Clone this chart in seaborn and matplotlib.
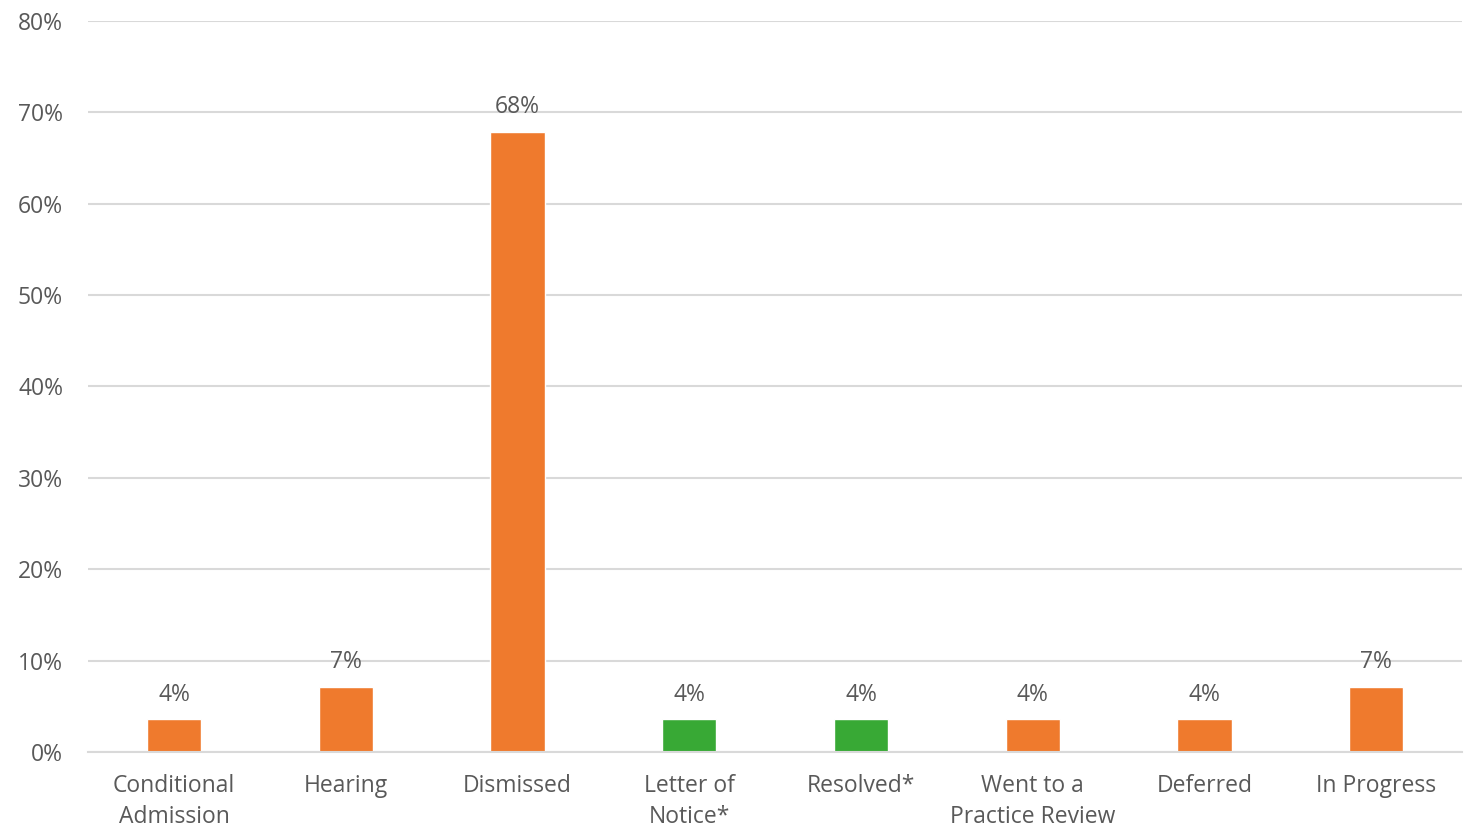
import matplotlib
matplotlib.use("Agg")
import matplotlib.pyplot as plt
import seaborn as sns
import pandas as pd
from matplotlib.ticker import PercentFormatter

categories = ["Conditional\nAdmission", "Hearing", "Dismissed", "Letter of\nNotice*",
              "Resolved*", "Went to a\nPractice Review", "Deferred", "In Progress"]
counts = [1, 2, 19, 1, 1, 1, 1, 2]
total = 28
values = [c / total for c in counts]
labels = ["4%", "7%", "68%", "4%", "4%", "4%", "4%", "7%"]
groups = ["o", "o", "o", "g", "g", "o", "o", "o"]

ORANGE = "#EF7A2D"
GREEN = "#38A935"
TEXT = "#595959"

sns.set_theme(style="white")
plt.rcParams["font.family"] = ["Open Sans", "DejaVu Sans"]

df = pd.DataFrame({"cat": categories, "val": values, "grp": groups})

fig = plt.figure(figsize=(14.68, 8.39), dpi=100)
ax = fig.add_axes([0.06, 0.1037, 0.936, 0.8713])
sns.barplot(data=df, x="cat", y="val", hue="grp", palette={"o": ORANGE, "g": GREEN},
            dodge=False, width=0.315, legend=False, ax=ax, saturation=1)

ax.set_ylim(0, 0.8)
ax.set_xlim(-0.5, 7.5)
ax.set_yticks([i / 10 for i in range(9)])
ax.yaxis.set_major_formatter(PercentFormatter(1.0, decimals=0))
ax.grid(axis="y", color="#D9D9D9", linewidth=1.5)
ax.set_axisbelow(True)
for s in ["top", "right", "left"]:
    ax.spines[s].set_visible(False)
ax.spines["bottom"].set_color("#D9D9D9")
ax.spines["bottom"].set_linewidth(1.5)
ax.tick_params(axis="both", length=0, labelsize=16.5, labelcolor=TEXT)
ax.tick_params(axis="y", pad=18)
ax.tick_params(axis="x", pad=16)
for t in ax.get_xticklabels():
    t.set_linespacing(1.4)
    t.set_verticalalignment("top")
ax.set_xlabel("")
ax.set_ylabel("")

for i, (v, lab) in enumerate(zip(values, labels)):
    ax.annotate(lab, (i, v), xytext=(0, 9), textcoords="offset points",
                ha="center", va="bottom", fontsize=16.5, color=TEXT)

fig.savefig("out.png", dpi=100, facecolor="white")
